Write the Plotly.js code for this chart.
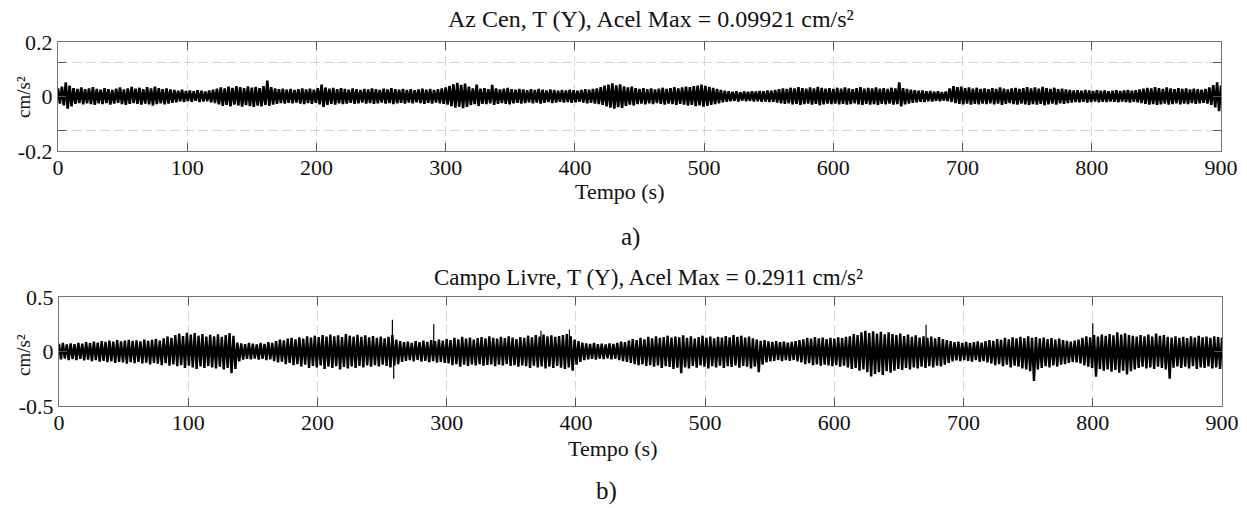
<!DOCTYPE html>
<html>
<head>
<meta charset="utf-8">
<script src="https://cdn.plot.ly/plotly-3.0.1.min.js"></script>
<style>html,body{margin:0;padding:0;background:#fff;}#chart{width:1247px;height:508px;}</style>
</head>
<body>
<div id="chart"></div>
<script>
// Sampling instants (s), every 3 s from 0 to 900
const timeS = Array.from({length: 301}, (_, i) => i * 3);
const xTicks = [0, 100, 200, 300, 400, 500, 600, 700, 800, 900];

// a) Az Cen, T (Y) - upper and lower envelope of the record (cm/s^2)
const azUpper = [
0.030,0.036,0.052,0.040,0.031,0.028,0.033,0.027,0.030,0.034,
0.028,0.025,0.031,0.027,0.024,0.029,0.033,0.026,0.030,0.035,
0.029,0.032,0.027,0.034,0.030,0.036,0.031,0.027,0.030,0.026,
0.024,0.021,0.025,0.020,0.022,0.019,0.023,0.021,0.018,0.022,
0.025,0.029,0.033,0.030,0.036,0.032,0.038,0.034,0.031,0.037,
0.033,0.035,0.031,0.038,0.058,0.034,0.030,0.027,0.029,0.025,
0.028,0.024,0.027,0.030,0.026,0.029,0.025,0.031,0.044,0.033,
0.029,0.032,0.027,0.031,0.028,0.025,0.030,0.027,0.024,0.028,
0.026,0.030,0.027,0.024,0.029,0.026,0.031,0.027,0.025,0.028,
0.024,0.027,0.023,0.026,0.029,0.025,0.028,0.024,0.027,0.030,
0.033,0.039,0.045,0.050,0.043,0.047,0.036,0.030,0.044,0.029,
0.031,0.027,0.043,0.030,0.026,0.029,0.032,0.027,0.025,0.028,
0.026,0.023,0.027,0.024,0.028,0.025,0.022,0.026,0.024,0.021,
0.024,0.022,0.025,0.023,0.021,0.024,0.027,0.025,0.028,0.030,
0.034,0.040,0.044,0.048,0.041,0.045,0.037,0.033,0.036,0.031,
0.028,0.031,0.027,0.030,0.026,0.029,0.032,0.028,0.031,0.034,
0.030,0.033,0.036,0.034,0.038,0.040,0.044,0.039,0.035,0.032,
0.028,0.024,0.021,0.019,0.017,0.019,0.016,0.018,0.017,0.019,
0.018,0.020,0.019,0.022,0.021,0.024,0.027,0.030,0.028,0.032,
0.030,0.034,0.031,0.029,0.033,0.030,0.035,0.032,0.029,0.031,
0.028,0.032,0.029,0.033,0.030,0.027,0.031,0.034,0.029,0.032,
0.030,0.033,0.029,0.031,0.028,0.032,0.030,0.052,0.031,0.028,
0.025,0.023,0.021,0.022,0.019,0.020,0.017,0.019,0.016,0.018,
0.030,0.038,0.034,0.036,0.031,0.033,0.029,0.032,0.028,0.030,
0.027,0.031,0.028,0.033,0.029,0.026,0.030,0.032,0.028,0.031,
0.034,0.030,0.033,0.029,0.035,0.031,0.028,0.032,0.027,0.029,
0.026,0.024,0.022,0.023,0.021,0.024,0.022,0.020,0.023,0.021,
0.022,0.019,0.021,0.023,0.020,0.022,0.024,0.021,0.023,0.026,
0.029,0.032,0.030,0.034,0.031,0.028,0.033,0.030,0.027,0.031,
0.028,0.030,0.026,0.029,0.027,0.025,0.028,0.033,0.042,0.052,
0.040];
const azLower = [
-0.026,-0.033,-0.045,-0.036,-0.027,-0.024,-0.029,-0.025,-0.028,-0.031,
-0.025,-0.028,-0.024,-0.030,-0.026,-0.023,-0.028,-0.031,-0.027,-0.024,
-0.027,-0.030,-0.026,-0.029,-0.033,-0.028,-0.025,-0.029,-0.026,-0.023,
-0.021,-0.018,-0.020,-0.017,-0.019,-0.016,-0.020,-0.018,-0.017,-0.021,
-0.024,-0.029,-0.034,-0.031,-0.036,-0.030,-0.033,-0.037,-0.032,-0.035,
-0.038,-0.033,-0.036,-0.031,-0.034,-0.030,-0.027,-0.024,-0.026,-0.023,
-0.025,-0.022,-0.026,-0.028,-0.024,-0.027,-0.023,-0.029,-0.038,-0.031,
-0.027,-0.030,-0.025,-0.028,-0.026,-0.023,-0.027,-0.025,-0.022,-0.026,
-0.024,-0.027,-0.025,-0.022,-0.026,-0.024,-0.028,-0.025,-0.023,-0.026,
-0.022,-0.025,-0.021,-0.024,-0.027,-0.023,-0.026,-0.022,-0.025,-0.027,
-0.030,-0.035,-0.041,-0.037,-0.043,-0.038,-0.032,-0.028,-0.034,-0.027,
-0.028,-0.025,-0.031,-0.027,-0.024,-0.027,-0.029,-0.025,-0.023,-0.026,
-0.024,-0.021,-0.025,-0.022,-0.026,-0.023,-0.020,-0.024,-0.022,-0.019,
-0.022,-0.020,-0.023,-0.021,-0.019,-0.022,-0.025,-0.023,-0.026,-0.028,
-0.031,-0.036,-0.041,-0.045,-0.039,-0.042,-0.034,-0.030,-0.033,-0.028,
-0.026,-0.029,-0.025,-0.028,-0.024,-0.027,-0.030,-0.026,-0.028,-0.031,
-0.027,-0.030,-0.033,-0.031,-0.035,-0.033,-0.037,-0.034,-0.031,-0.028,
-0.025,-0.021,-0.019,-0.017,-0.016,-0.018,-0.015,-0.017,-0.016,-0.018,
-0.017,-0.019,-0.018,-0.020,-0.019,-0.022,-0.025,-0.027,-0.025,-0.029,
-0.027,-0.031,-0.028,-0.026,-0.030,-0.027,-0.032,-0.029,-0.026,-0.028,
-0.026,-0.029,-0.027,-0.030,-0.028,-0.025,-0.029,-0.031,-0.027,-0.030,
-0.028,-0.031,-0.027,-0.029,-0.026,-0.030,-0.028,-0.036,-0.029,-0.026,
-0.023,-0.021,-0.019,-0.020,-0.017,-0.018,-0.016,-0.017,-0.015,-0.017,
-0.020,-0.024,-0.027,-0.029,-0.026,-0.030,-0.027,-0.029,-0.026,-0.028,
-0.025,-0.029,-0.026,-0.031,-0.027,-0.024,-0.028,-0.030,-0.026,-0.029,
-0.031,-0.028,-0.030,-0.027,-0.032,-0.029,-0.026,-0.030,-0.025,-0.027,
-0.024,-0.022,-0.020,-0.021,-0.019,-0.022,-0.020,-0.018,-0.021,-0.019,
-0.020,-0.018,-0.019,-0.021,-0.018,-0.020,-0.022,-0.019,-0.021,-0.024,
-0.027,-0.030,-0.028,-0.031,-0.029,-0.026,-0.030,-0.028,-0.025,-0.029,
-0.026,-0.028,-0.024,-0.027,-0.025,-0.023,-0.026,-0.031,-0.040,-0.054,
-0.045];

// b) Campo Livre, T (Y) - upper and lower envelope (cm/s^2)
const clUpper = [
0.070,0.078,0.065,0.074,0.068,0.079,0.072,0.085,0.076,0.090,
0.082,0.095,0.088,0.100,0.091,0.105,0.094,0.099,0.108,0.097,
0.102,0.093,0.110,0.098,0.106,0.115,0.101,0.120,0.138,0.125,
0.150,0.165,0.142,0.172,0.155,0.168,0.145,0.160,0.138,0.152,
0.140,0.158,0.135,0.150,0.170,0.145,0.082,0.075,0.068,0.078,
0.072,0.065,0.080,0.070,0.085,0.078,0.095,0.110,0.102,0.118,
0.125,0.112,0.130,0.118,0.140,0.128,0.145,0.132,0.150,0.138,
0.155,0.140,0.148,0.132,0.160,0.145,0.138,0.152,0.135,0.148,
0.130,0.142,0.125,0.138,0.120,0.135,0.150,0.110,0.095,0.085,
0.090,0.080,0.095,0.085,0.100,0.088,0.105,0.095,0.110,0.100,
0.115,0.105,0.125,0.112,0.135,0.118,0.128,0.110,0.122,0.132,
0.120,0.140,0.125,0.118,0.135,0.122,0.140,0.128,0.115,0.132,
0.125,0.145,0.130,0.150,0.138,0.155,0.140,0.148,0.135,0.142,
0.150,0.160,0.140,0.110,0.095,0.082,0.075,0.070,0.078,0.068,
0.072,0.065,0.075,0.070,0.080,0.090,0.085,0.100,0.115,0.105,
0.125,0.112,0.135,0.120,0.140,0.125,0.132,0.145,0.128,0.138,
0.130,0.148,0.125,0.140,0.118,0.132,0.145,0.125,0.138,0.120,
0.135,0.128,0.142,0.130,0.150,0.135,0.145,0.128,0.138,0.120,
0.110,0.098,0.105,0.092,0.088,0.095,0.085,0.090,0.082,0.088,
0.095,0.105,0.112,0.125,0.118,0.132,0.120,0.128,0.115,0.125,
0.118,0.130,0.122,0.135,0.140,0.160,0.150,0.175,0.190,0.170,
0.185,0.165,0.180,0.158,0.175,0.160,0.150,0.165,0.142,0.155,
0.135,0.148,0.128,0.140,0.125,0.138,0.120,0.132,0.115,0.105,
0.095,0.085,0.090,0.080,0.088,0.078,0.085,0.092,0.082,0.095,
0.105,0.098,0.115,0.108,0.125,0.112,0.130,0.120,0.135,0.122,
0.140,0.125,0.132,0.118,0.128,0.115,0.122,0.110,0.118,0.105,
0.098,0.090,0.100,0.110,0.125,0.140,0.130,0.150,0.138,0.155,
0.145,0.160,0.148,0.175,0.155,0.168,0.150,0.145,0.138,0.150,
0.140,0.155,0.138,0.165,0.145,0.150,0.135,0.128,0.140,0.125,
0.135,0.122,0.140,0.128,0.145,0.130,0.138,0.125,0.140,0.132,
0.128];
const clLower = [
-0.072,-0.065,-0.080,-0.070,-0.078,-0.068,-0.082,-0.075,-0.088,-0.080,
-0.092,-0.085,-0.098,-0.090,-0.105,-0.095,-0.100,-0.112,-0.098,-0.108,
-0.095,-0.110,-0.102,-0.118,-0.105,-0.112,-0.125,-0.108,-0.130,-0.118,
-0.135,-0.125,-0.150,-0.130,-0.145,-0.160,-0.138,-0.150,-0.132,-0.145,
-0.155,-0.140,-0.165,-0.150,-0.200,-0.160,-0.090,-0.075,-0.068,-0.072,
-0.065,-0.075,-0.068,-0.080,-0.072,-0.088,-0.100,-0.092,-0.115,-0.105,
-0.125,-0.115,-0.138,-0.120,-0.150,-0.132,-0.145,-0.128,-0.160,-0.140,
-0.150,-0.135,-0.165,-0.142,-0.155,-0.138,-0.150,-0.132,-0.145,-0.128,
-0.140,-0.125,-0.138,-0.120,-0.132,-0.145,-0.128,-0.115,-0.095,-0.085,
-0.080,-0.090,-0.078,-0.092,-0.085,-0.098,-0.088,-0.102,-0.095,-0.105,
-0.110,-0.125,-0.115,-0.140,-0.120,-0.132,-0.118,-0.128,-0.115,-0.130,
-0.122,-0.118,-0.135,-0.120,-0.128,-0.115,-0.132,-0.125,-0.140,-0.128,
-0.135,-0.150,-0.130,-0.145,-0.138,-0.155,-0.140,-0.150,-0.132,-0.148,
-0.160,-0.145,-0.175,-0.120,-0.095,-0.080,-0.072,-0.068,-0.075,-0.065,
-0.070,-0.063,-0.072,-0.068,-0.078,-0.088,-0.095,-0.105,-0.115,-0.125,
-0.118,-0.132,-0.125,-0.140,-0.128,-0.150,-0.135,-0.142,-0.160,-0.148,
-0.200,-0.145,-0.155,-0.132,-0.148,-0.128,-0.140,-0.155,-0.135,-0.145,
-0.130,-0.150,-0.135,-0.142,-0.128,-0.148,-0.132,-0.140,-0.155,-0.138,
-0.190,-0.120,-0.100,-0.090,-0.085,-0.078,-0.088,-0.080,-0.085,-0.078,
-0.090,-0.100,-0.115,-0.108,-0.125,-0.118,-0.130,-0.120,-0.128,-0.135,
-0.125,-0.140,-0.130,-0.145,-0.160,-0.150,-0.175,-0.165,-0.190,-0.230,
-0.205,-0.190,-0.215,-0.180,-0.195,-0.175,-0.160,-0.170,-0.150,-0.165,
-0.145,-0.155,-0.140,-0.150,-0.135,-0.145,-0.130,-0.138,-0.120,-0.105,
-0.090,-0.082,-0.088,-0.078,-0.085,-0.092,-0.080,-0.095,-0.088,-0.100,
-0.110,-0.125,-0.115,-0.135,-0.120,-0.145,-0.130,-0.140,-0.155,-0.165,
-0.180,-0.270,-0.165,-0.150,-0.135,-0.145,-0.128,-0.138,-0.120,-0.115,
-0.105,-0.095,-0.100,-0.110,-0.128,-0.140,-0.150,-0.230,-0.160,-0.175,
-0.165,-0.185,-0.170,-0.195,-0.175,-0.210,-0.180,-0.165,-0.150,-0.140,
-0.155,-0.145,-0.160,-0.140,-0.150,-0.165,-0.250,-0.148,-0.138,-0.150,
-0.140,-0.155,-0.135,-0.160,-0.145,-0.150,-0.138,-0.155,-0.145,-0.160,
-0.150];

// Isolated peaks of record b) (time s, value cm/s^2)
const clPeakT = [258, 259, 290, 373, 395, 671, 800];
const clPeakV = [0.291, -0.25, 0.25, 0.19, 0.20, 0.245, 0.26];

function zigzag(t, up, lo) {
  const x = [], y = [];
  for (let i = 0; i < t.length; i++) {
    x.push(t[i]); y.push(up[i]);
    x.push(t[i] + 1.5); y.push(lo[i]);
  }
  return {x, y};
}
function stems(t, v) {
  const x = [], y = [];
  for (let i = 0; i < t.length; i++) { x.push(t[i], t[i], null); y.push(0, v[i], null); }
  return {x, y};
}

const za = zigzag(timeS, azUpper, azLower);
const zb = zigzag(timeS, clUpper, clLower);
const sb = stems(clPeakT, clPeakV);

const traces = [
  {type: 'scatter', mode: 'lines', x: za.x, y: za.y, xaxis: 'x', yaxis: 'y', line: {color: '#000', width: 2.6}, hoverinfo: 'skip'},
  {type: 'scatter', mode: 'lines', x: zb.x, y: zb.y, xaxis: 'x2', yaxis: 'y2', line: {color: '#000', width: 2.4}, hoverinfo: 'skip'},
  {type: 'scatter', mode: 'lines', x: sb.x, y: sb.y, xaxis: 'x2', yaxis: 'y2', line: {color: '#000', width: 1.2}, hoverinfo: 'skip', connectgaps: false}
];

const serif = 'Liberation Serif, Times New Roman, serif';
const tickFont = {family: serif, size: 22, color: '#111'};
const commonX = {
  range: [0, 900], tickvals: xTicks, ticktext: xTicks.map(String),
  ticks: 'inside', ticklen: 8, tickcolor: '#555', tickwidth: 1,
  showline: true, mirror: 'ticks', linecolor: '#747474', linewidth: 1,
  showgrid: true, gridcolor: '#d6d6d6', griddash: '10px,4px', gridwidth: 1,
  zeroline: false, tickfont: tickFont, fixedrange: true, ticklabelstandoff: -3
};
const commonY = {
  ticks: 'inside', ticklen: 8, tickcolor: '#555', tickwidth: 1,
  showline: true, mirror: 'ticks', linecolor: '#747474', linewidth: 1,
  zeroline: false, tickfont: tickFont, fixedrange: true
};

const W = 1247, H = 508;
const px = v => v / W, py = v => 1 - v / H;
const txt = (s, x, y, size, extra) => Object.assign({text: s, x: px(x), y: py(y), xref: 'paper', yref: 'paper', showarrow: false,
  xanchor: 'center', yanchor: 'middle', font: {family: serif, size: size, color: '#111'}}, extra || {});

const layout = {
  width: W, height: H,
  margin: {l: 0, r: 0, t: 0, b: 0},
  paper_bgcolor: '#fff', plot_bgcolor: '#fff',
  showlegend: false,
  xaxis: Object.assign({}, commonX, {domain: [px(58), px(1221)], anchor: 'y'}),
  yaxis: Object.assign({}, commonY, {domain: [py(151), py(42)], anchor: 'x', range: [-0.2, 0.2],
    tickvals: [-0.2, -0.125, 0, 0.125, 0.2], ticktext: ['-0.2', '', '0', '', '0.2'],
    showgrid: true, gridcolor: '#d6d6d6', griddash: '10px,4px'}),
  xaxis2: Object.assign({}, commonX, {domain: [px(59), px(1222)], anchor: 'y2'}),
  yaxis2: Object.assign({}, commonY, {domain: [py(406), py(297)], anchor: 'x2', range: [-0.5, 0.5],
    tickvals: [-0.5, 0, 0.5], ticktext: ['-0.5', '0', '0.5'], showgrid: false}),
  annotations: [
    txt('Az Cen, T (Y), Acel Max = 0.09921 cm/s²', 651, 19, 24),
    txt('Tempo (s)', 620, 191, 22),
    txt('a)', 630, 237, 25),
    txt('cm/s²', 23, 97, 19, {textangle: -90}),
    txt('Campo Livre, T (Y), Acel Max = 0.2911 cm/s²', 648, 277, 23),
    txt('Tempo (s)', 613, 448, 22),
    txt('b)', 606, 491, 25),
    txt('cm/s²', 23, 355, 19, {textangle: -90})
  ]
};

Plotly.newPlot('chart', traces, layout, {staticPlot: true, displayModeBar: false});
</script>
</body>
</html>
